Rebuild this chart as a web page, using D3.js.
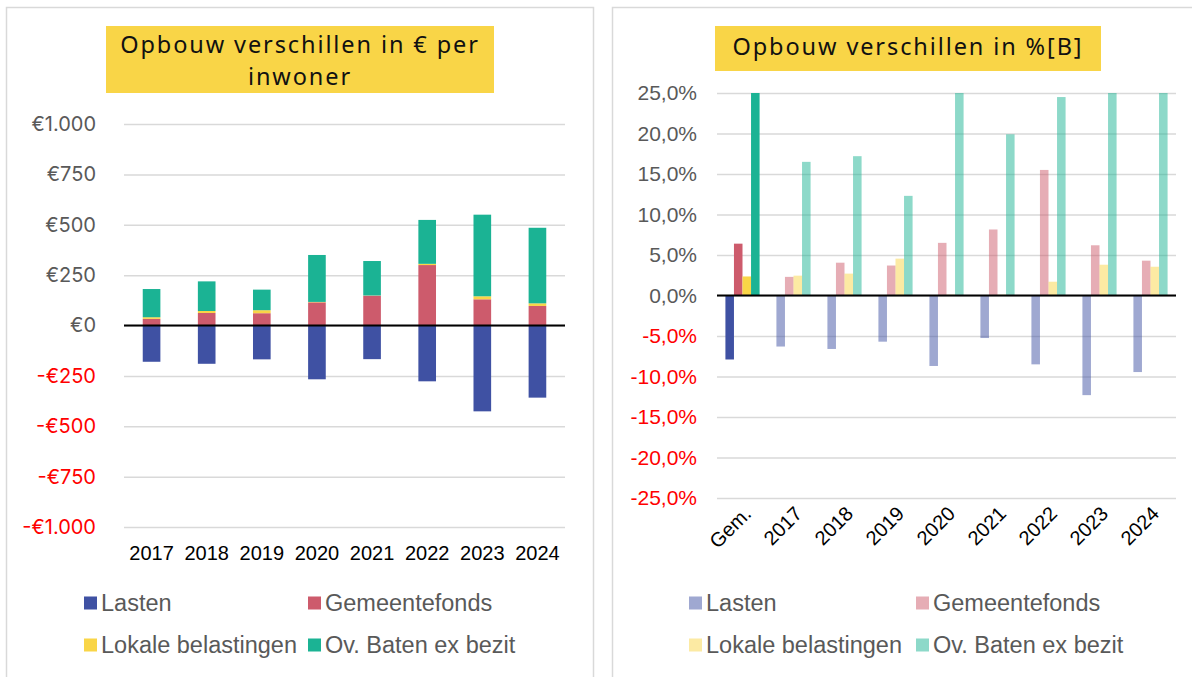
<!DOCTYPE html>
<html><head><meta charset="utf-8">
<script src="https://cdn.jsdelivr.net/npm/d3@7"></script>
<style>
html,body{margin:0;padding:0;background:#fff;}
svg{display:block;}
</style></head>
<body>
<svg id="c" width="1192" height="677"></svg>
<script>
// ---------- DATA ----------
const series = ["Lasten", "Gemeentefonds", "Lokale belastingen", "Ov. Baten ex bezit"];
const colors = ["#3F51A3", "#CD5B6C", "#F9D547", "#1BB394"];

// Left chart: € per inwoner
const yearsLeft = ["2017", "2018", "2019", "2020", "2021", "2022", "2023", "2024"];
const lastenEur = [-180, -190, -168, -267, -167, -277, -426, -358];
const gemeentefondsEur = [33, 62, 61, 115, 148, 300, 130, 97];
const lokaleEur = [8, 10, 15, 2, 1, 6, 15, 13];
const ovBatenEur = [140, 147, 102, 233, 171, 218, 405, 375];
const leftTicks = [-1000, -750, -500, -250, 0, 250, 500, 750, 1000];
const leftTickLabels = ["-€1.000", "-€750", "-€500", "-€250", "€0", "€250", "€500", "€750", "€1.000"];

// Right chart: % differences
const catsRight = ["Gem.", "2017", "2018", "2019", "2020", "2021", "2022", "2023", "2024"];
const lastenPct = [-7.9, -6.3, -6.6, -5.7, -8.7, -5.25, -8.5, -12.3, -9.45];
const gemeentefondsPct = [6.4, 2.3, 4.05, 3.7, 6.5, 8.15, 15.5, 6.2, 4.3];
const lokalePct = [2.35, 2.45, 2.7, 4.55, 0.1, 0.1, 1.7, 3.8, 3.55];
const ovBatenPct = [30, 16.5, 17.2, 12.3, 27, 19.9, 24.5, 38, 35];
const rightTicks = [-25, -20, -15, -10, -5, 0, 5, 10, 15, 20, 25];
const rightTickLabels = ["-25,0%", "-20,0%", "-15,0%", "-10,0%", "-5,0%", "0,0%", "5,0%", "10,0%", "15,0%", "20,0%", "25,0%"];

// ---------- DRAW ----------
const svg = d3.select("#c");
const axisFont = "'Liberation Sans', Arial, sans-serif";
const leftAxisFont = "Inter, 'Noto Sans', sans-serif";
const titleFont = "'Noto Sans', 'Open Sans', sans-serif";
const grey = "#595959";

// panel borders
svg.append("rect").attr("x", 6.5).attr("y", 7.5).attr("width", 587).attr("height", 690)
  .attr("fill", "none").attr("stroke", "#D9D9D9").attr("stroke-width", 1.5);
svg.append("rect").attr("x", 612.5).attr("y", 7.5).attr("width", 600).attr("height", 690)
  .attr("fill", "none").attr("stroke", "#D9D9D9").attr("stroke-width", 1.5);

function title(cx, y0, y1, x0, x1, lines, lineYs) {
  svg.append("rect").attr("x", x0).attr("y", y0).attr("width", x1 - x0).attr("height", y1 - y0).attr("fill", "#F9D547");
  lines.forEach((t, i) => {
    svg.append("text").attr("x", cx).attr("y", lineYs[i]).attr("text-anchor", "middle")
      .attr("dominant-baseline", "central")
      .attr("font-family", titleFont).attr("font-size", 23.5).attr("letter-spacing", 1.9)
      .attr("fill", "#111").text(t);
  });
}
title(300, 26, 93, 106, 494, ["Opbouw verschillen in € per", "inwoner"], [44, 76]);
title(908, 26, 71, 715, 1101, ["Opbouw verschillen in %[B]"], [46]);

function yAxis(g, y, ticks, labels, x0, x1, pad, font, size) {
  const ax = d3.axisLeft(y).tickValues(ticks).tickFormat((d, i) => labels[i]).tickSize(-(x1 - x0)).tickPadding(pad);
  const gg = g.append("g").attr("transform", `translate(${x0},0)`).call(ax);
  gg.select(".domain").remove();
  gg.selectAll(".tick line").attr("stroke", "#D9D9D9").attr("stroke-width", 1.5)
    .attr("x1", 0).attr("x2", x1 - x0);
  gg.selectAll(".tick text").attr("font-family", font).attr("font-size", size)
    .attr("fill", d => d < 0 ? "#FF0000" : grey).attr("x", -pad);
}

// ---------- LEFT CHART ----------
{
  const x0 = 124, x1 = 565;
  const y = d3.scaleLinear().domain([-1000, 1000]).range([527, 124]);
  const x = d3.scaleBand().domain(yearsLeft).range([x0, x1]).paddingInner(0.68).paddingOuter(0.34);
  const g = svg.append("g");
  yAxis(g, y, leftTicks, leftTickLabels, x0, x1, 28, leftAxisFont, 20);

  const rows = yearsLeft.map((yr, i) => ({
    year: yr,
    "Lasten": lastenEur[i], "Gemeentefonds": gemeentefondsEur[i],
    "Lokale belastingen": lokaleEur[i], "Ov. Baten ex bezit": ovBatenEur[i]
  }));
  const stack = d3.stack().keys(series).offset(d3.stackOffsetDiverging)(rows);
  g.selectAll("g.s").data(stack).join("g").attr("class", "s")
    .attr("fill", (d, i) => colors[i])
    .selectAll("rect").data(d => d).join("rect")
    .attr("x", d => x(d.data.year))
    .attr("width", x.bandwidth())
    .attr("y", d => y(Math.max(d[0], d[1])))
    .attr("height", d => Math.abs(y(d[0]) - y(d[1])));

  g.append("line").attr("x1", x0).attr("x2", x1).attr("y1", y(0)).attr("y2", y(0))
    .attr("stroke", "#000").attr("stroke-width", 2);

  const xa = g.append("g").attr("transform", `translate(0,${y(-1000) + 26})`)
    .call(d3.axisBottom(x).tickSize(0).tickPadding(0));
  xa.select(".domain").remove();
  xa.selectAll("text").attr("font-family", axisFont).attr("font-size", 20).attr("fill", "#000")
    .attr("dy", "0.35em");

  // legend
  const lx = [84, 308], ly = [603, 645];
  series.forEach((s, i) => {
    const cx = lx[i % 2], cy = ly[Math.floor(i / 2)];
    g.append("rect").attr("x", cx).attr("y", cy - 6.5).attr("width", 13).attr("height", 13).attr("fill", colors[i]);
    g.append("text").attr("x", cx + 17).attr("y", cy).attr("dominant-baseline", "central")
      .attr("font-family", axisFont).attr("font-size", 23.5).attr("fill", grey).text(s);
  });
}

// ---------- RIGHT CHART ----------
{
  const x0 = 717, x1 = 1176;
  const y = d3.scaleLinear().domain([-25, 25]).range([498, 93]);
  const x = d3.scaleBand().domain(catsRight).range([x0, x1]).paddingInner(0.33).paddingOuter(0.165);
  const xs = d3.scaleBand().domain(series).range([0, x.bandwidth()]);
  const g = svg.append("g");
  yAxis(g, y, rightTicks, rightTickLabels, x0, x1, 20, axisFont, 21);

  svg.append("clipPath").attr("id", "clipR").append("rect")
    .attr("x", x0).attr("y", y(25)).attr("width", x1 - x0).attr("height", y(-25) - y(25));

  const vals = [lastenPct, gemeentefondsPct, lokalePct, ovBatenPct];
  const data = [];
  catsRight.forEach((c, i) => series.forEach((s, j) => data.push({ cat: c, s, j, v: vals[j][i], first: i === 0 })));
  g.append("g").attr("clip-path", "url(#clipR)").selectAll("rect").data(data).join("rect")
    .attr("x", d => x(d.cat) + xs(d.s))
    .attr("width", xs.bandwidth())
    .attr("y", d => y(Math.max(0, d.v)))
    .attr("height", d => Math.abs(y(d.v) - y(0)))
    .attr("fill", d => colors[d.j])
    .attr("fill-opacity", d => d.first ? 1 : 0.5);

  g.append("line").attr("x1", x0).attr("x2", x1).attr("y1", y(0)).attr("y2", y(0))
    .attr("stroke", "#000").attr("stroke-width", 2);

  const xa = g.append("g").attr("transform", `translate(0,${y(-25) + 10})`)
    .call(d3.axisBottom(x).tickSize(0).tickPadding(0));
  xa.select(".domain").remove();
  xa.selectAll("text").attr("font-family", axisFont).attr("font-size", 20).attr("fill", "#000")
    .attr("text-anchor", "end").attr("dy", "0.35em")
    .attr("transform", "translate(5,2) rotate(-45)");

  const lx = [689, 916], ly = [603, 645];
  series.forEach((s, i) => {
    const cx = lx[i % 2], cy = ly[Math.floor(i / 2)];
    g.append("rect").attr("x", cx).attr("y", cy - 6.5).attr("width", 13).attr("height", 13)
      .attr("fill", colors[i]).attr("fill-opacity", 0.5);
    g.append("text").attr("x", cx + 17).attr("y", cy).attr("dominant-baseline", "central")
      .attr("font-family", axisFont).attr("font-size", 23.5).attr("fill", grey).text(s);
  });
}
</script>
</body></html>
